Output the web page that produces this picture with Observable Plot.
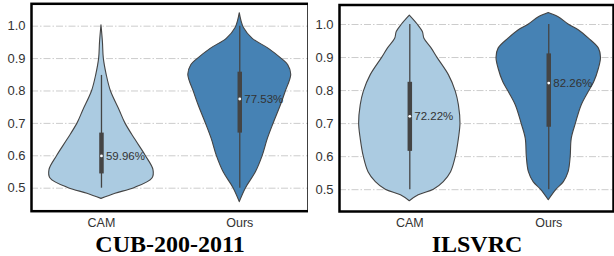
<!DOCTYPE html>
<html><head><meta charset="utf-8">
<script src="https://cdn.jsdelivr.net/npm/d3@7"></script>
<script src="https://cdn.jsdelivr.net/npm/@observablehq/plot@0.6"></script>
<style>
body{margin:0;background:#fff;}
#fig{position:relative;width:614px;height:256px;overflow:hidden;background:#fff;}
.panel{position:absolute;top:0;}
.title{position:absolute;font-family:"Liberation Serif","Times New Roman",serif;font-weight:bold;font-size:24px;line-height:18px;white-space:nowrap;transform:translateX(-50%);color:#000;}
</style></head><body><div id="fig"></div>
<script>
const categories = ["CAM", "Ours"];
const datasets = ["CUB-200-2011", "ILSVRC"];
const yTicks = [0.5, 0.6, 0.7, 0.8, 0.9, 1.0];

// Violin outlines: value levels and relative density (max = 1)
const cubCamV = [0.467, 0.483, 0.5, 0.53, 0.556, 0.6, 0.65, 0.7, 0.74, 0.8, 0.85, 0.9, 0.95, 1.003];
const cubCamD = [0, 0.27, 0.63, 0.98, 1.0, 0.85, 0.65, 0.46, 0.35, 0.18, 0.10, 0.045, 0.028, 0];
const cubOursV = [0.457, 0.5, 0.549, 0.599, 0.652, 0.699, 0.755, 0.796, 0.85, 0.88, 0.896, 0.93, 0.961, 0.994, 1.04];
const cubOursD = [0, 0.12, 0.31, 0.44, 0.54, 0.65, 0.79, 0.88, 0.99, 0.93, 0.83, 0.56, 0.25, 0.08, 0];
const ilsCamV = [0.465, 0.483, 0.5, 0.523, 0.553, 0.599, 0.654, 0.70, 0.755, 0.797, 0.846, 0.899, 0.927, 0.957, 0.977, 1.0, 1.027];
const ilsCamD = [0, 0.17, 0.46, 0.65, 0.79, 0.88, 0.94, 0.97, 0.94, 0.88, 0.75, 0.53, 0.42, 0.28, 0.25, 0.15, 0];
const ilsOursV = [0.468, 0.5, 0.523, 0.553, 0.599, 0.654, 0.70, 0.755, 0.797, 0.825, 0.866, 0.899, 0.927, 0.957, 0.982, 1.0, 1.022, 1.035];
const ilsOursD = [0, 0.15, 0.29, 0.38, 0.42, 0.44, 0.52, 0.63, 0.77, 0.87, 0.96, 1.0, 0.96, 0.77, 0.58, 0.38, 0.19, 0];

// Box statistics: [whiskerLow, q1, median, q3, whiskerHigh]
const cubCamBox = [0.5, 0.544, 0.5996, 0.67, 0.848];
const cubOursBox = [0.5, 0.67, 0.7753, 0.858, 1.0];
const ilsCamBox = [0.5, 0.616, 0.7222, 0.825, 1.0];
const ilsOursBox = [0.5, 0.689, 0.8226, 0.911, 1.0];

const fills = ["#abcbe1", "#4682b4"];
const halfWidth = 0.376;

function violinRows(V, D, i) {
  return V.map((v, k) => ({v, d: D[k], i}));
}
function boxRow(b, i) {
  return {i, lo: b[0], q1: b[1], med: b[2], q3: b[3], hi: b[4], label: (b[2] * 100).toFixed(2) + "%"};
}

function panel(violins, boxes, o) {
  const bx = boxes;
  return Plot.plot({
    width: o.width, height: 232,
    marginLeft: 31, marginRight: o.mr, marginTop: o.mt, marginBottom: o.mb,
    style: {fontFamily: "'Liberation Sans', Arial, sans-serif", background: "#fff", color: "#333", overflow: "visible"},
    x: {domain: o.xd},
    y: {domain: o.yd},
    marks: [
      Plot.ruleY(yTicks, {stroke: "#cccccc", strokeWidth: 1, strokeDasharray: "7,2,1.5,2"}),
      ...violins.map((vr, k) => Plot.areaX(vr, {
        y: "v", x1: d => d.i - d.d * halfWidth, x2: d => d.i + d.d * halfWidth,
        fill: fills[k], stroke: "#444", strokeWidth: 1.1, curve: "catmull-rom"
      })),
      Plot.ruleX(bx, {x: "i", y1: "lo", y2: "hi", stroke: "#444", strokeWidth: 1.3}),
      Plot.ruleX(bx, {x: "i", y1: "q1", y2: "q3", stroke: "#444", strokeWidth: 4.5}),
      Plot.dot(bx, {x: "i", y: "med", r: 1.4, fill: "white", stroke: null}),
      Plot.text(bx, {x: "i", y: "med", text: "label", dx: 4.5, textAnchor: "start", fontSize: 11.5, fill: "#333"}),
      Plot.axisY({ticks: yTicks, tickFormat: d3.format(".1f"), tickSize: 0, tickPadding: 6, fontSize: 13, label: null}),
      Plot.axisX({ticks: [0, 1], tickFormat: i => categories[i], tickSize: 0, tickPadding: 7, fontSize: 12.5, label: null}),
      Plot.frame({stroke: "black", strokeWidth: 2.5})
    ]
  });
}

const fig = document.getElementById("fig");
const p1 = panel(
  [violinRows(cubCamV, cubCamD, 0), violinRows(cubOursV, cubOursD, 1)],
  [boxRow(cubCamBox, 0), boxRow(cubOursBox, 1)],
  {width: 310, mr: 2, mt: 3.3, mb: 21.3, xd: [-0.506, 1.497], yd: [0.429, 1.069]}
);
const p2 = panel(
  [violinRows(ilsCamV, ilsCamD, 0), violinRows(ilsOursV, ilsOursD, 1)],
  [boxRow(ilsCamBox, 0), boxRow(ilsOursBox, 1)],
  {width: 306, mr: 1, mt: 4.5, mb: 21, xd: [-0.506, 1.466], yd: [0.434, 1.059]}
);
const d1 = document.createElement("div"); d1.className = "panel"; d1.style.left = "0px"; d1.appendChild(p1); fig.appendChild(d1);
const d2 = document.createElement("div"); d2.className = "panel"; d2.style.left = "308px"; d2.appendChild(p2); fig.appendChild(d2);

[[datasets[0], 170], [datasets[1], 477]].forEach(([t, cx]) => {
  const el = document.createElement("div");
  el.className = "title"; el.textContent = t;
  el.style.left = cx + "px"; el.style.top = "235px";
  fig.appendChild(el);
});
</script></body></html>
